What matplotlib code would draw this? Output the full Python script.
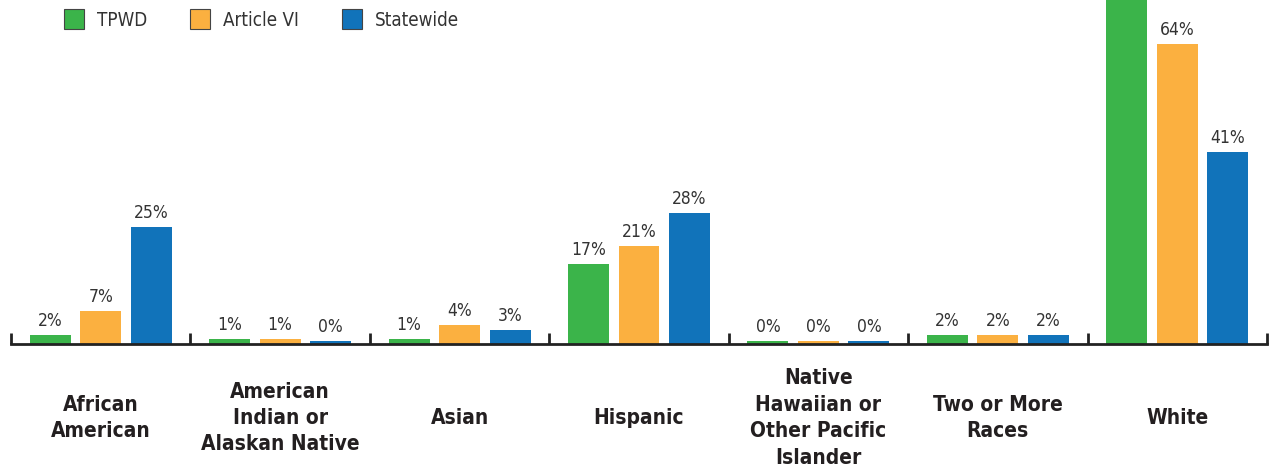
import matplotlib.pyplot as plt
import numpy as np
from matplotlib.patches import Patch

categories = ['African\nAmerican', 'American\nIndian or\nAlaskan Native', 'Asian', 'Hispanic',
              'Native\nHawaiian or\nOther Pacific\nIslander', 'Two or More\nRaces', 'White']
series = ['TPWD', 'Article VI', 'Statewide']
tpwd = [2, 1, 1, 17, 0, 2, 77]
article_vi = [7, 1, 4, 21, 0, 2, 64]
statewide = [25, 0, 3, 28, 0, 2, 41]

colors = ['#3BB44A', '#FBB040', '#1173BA']
plt.rcParams['font.family'] = ['DejaVu Sans']
plt.rcParams['font.stretch'] = 'condensed'

fig = plt.figure(figsize=(12.74, 4.75), dpi=100)
ax = fig.add_axes([11 / 1274, 131 / 475, 1256 / 1274, 344 / 475])

x = np.arange(len(categories))
offsets = [-0.2815, 0.0, 0.2815]
width = 0.2285
for vals, off, col in zip([tpwd, article_vi, statewide], offsets, colors):
    heights = [v if v > 0 else 0.6 for v in vals]
    bars = ax.bar(x + off, heights, width, color=col, zorder=2)
    for b, v in zip(bars, vals):
        ax.annotate(f'{v}%', (b.get_x() + b.get_width() / 2, b.get_height()),
                    xytext=(0, 3.5), textcoords='offset points', ha='center', va='bottom',
                    fontsize=12.5, color='#333333', annotation_clip=True, clip_on=True)

ax.set_xlim(-0.5, len(categories) - 0.5)
ax.set_ylim(0, 344 / 4.69)
for s in ['top', 'left', 'right']:
    ax.spines[s].set_visible(False)
ax.spines['bottom'].set_linewidth(2)
ax.spines['bottom'].set_color('#222222')
ax.set_yticks([])
ax.set_xticks(np.arange(-0.5, len(categories)), labels=[''] * (len(categories) + 1))
ax.tick_params(axis='x', direction='in', length=8, width=2, color='#222222')

for i, c in enumerate(categories):
    ax.text(i, -0.215, c, transform=ax.get_xaxis_transform(), ha='center', va='center',
            fontsize=15, fontweight='bold', color='#231F20', linespacing=1.4)

handles = [Patch(facecolor=c, edgecolor='#444444', linewidth=0.8, label=s) for c, s in zip(colors, series)]
fig.legend(handles=handles, loc='upper left', bbox_to_anchor=(64 / 1274, 1 - 9 / 475), ncol=3, frameon=False,
           fontsize=13.5, handlelength=1.05, handleheight=1.3, columnspacing=2.3, handletextpad=0.7,
           borderaxespad=0, borderpad=0, labelcolor='#333333')

fig.savefig('out.png', dpi=100)
